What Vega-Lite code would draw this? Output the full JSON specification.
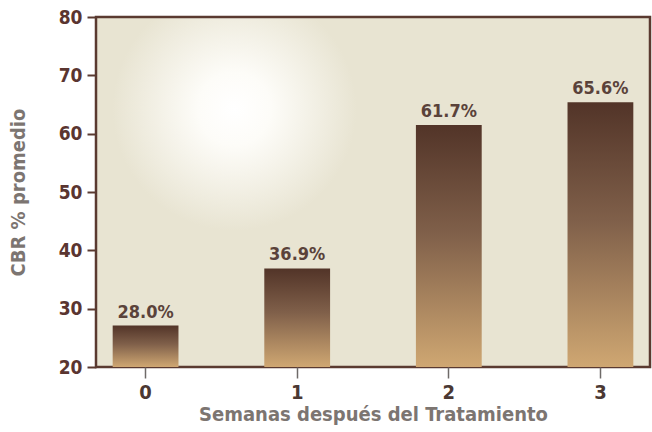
{
  "$schema": "https://vega.github.io/schema/vega-lite/v6.json",
  "autosize": "none",
  "width": 554,
  "height": 350,
  "padding": {"left": 96, "top": 17, "right": 2, "bottom": 65},
  "background": "#ffffff",
  "config": {
    "font": "DejaVu Sans Condensed",
    "view": {
      "stroke": "#5a3a30",
      "strokeWidth": 2.5,
      "fill": {
        "gradient": "radial",
        "x1": 0.25, "y1": 0.35, "r1": 0,
        "x2": 0.25, "y2": 0.35, "r2": 0.22,
        "stops": [
          {"offset": 0, "color": "#ffffff"},
          {"offset": 0.3, "color": "#fdfcf8"},
          {"offset": 1, "color": "#e8e4d2"}
        ]
      }
    }
  },
  "data": {
    "values": [
      {"week": "0", "value": 27.1, "label": "28.0%"},
      {"week": "1", "value": 36.9, "label": "36.9%"},
      {"week": "2", "value": 61.5, "label": "61.7%"},
      {"week": "3", "value": 65.4, "label": "65.6%"}
    ]
  },
  "encoding": {
    "x": {
      "field": "week",
      "type": "ordinal",
      "sort": null,
      "scale": {"paddingInner": 0.566, "paddingOuter": 0.11},
      "axis": {
        "title": "Semanas después del Tratamiento",
        "titleFontSize": 20,
        "titleFontWeight": "bold",
        "titleColor": "#7c7571",
        "titlePadding": 2,
        "labelAngle": 0,
        "labelFontSize": 20,
        "labelFontWeight": "bold",
        "labelColor": "#4a3833",
        "labelPadding": 4,
        "tickSize": 11,
        "tickColor": "#6e6a68",
        "tickWidth": 1.5,
        "domain": false
      }
    },
    "y": {
      "field": "value",
      "type": "quantitative",
      "scale": {"domain": [20, 80], "nice": false, "zero": false},
      "axis": {
        "title": "CBR % promedio",
        "titleFontSize": 20,
        "titleFontWeight": "bold",
        "titleColor": "#7c7571",
        "titlePadding": 30,
        "values": [20, 30, 40, 50, 60, 70, 80],
        "labelFontSize": 19,
        "labelFontWeight": "bold",
        "labelColor": "#5a3530",
        "labelPadding": 5,
        "tickSize": 9,
        "tickColor": "#5a3a30",
        "tickWidth": 2,
        "grid": false,
        "domain": false
      }
    }
  },
  "layer": [
    {
      "mark": {
        "type": "bar",
        "fill": {
          "gradient": "linear",
          "x1": 0, "y1": 0, "x2": 0, "y2": 1,
          "stops": [
            {"offset": 0, "color": "#523428"},
            {"offset": 0.45, "color": "#80604a"},
            {"offset": 1, "color": "#cfa772"}
          ]
        }
      },
      "encoding": {"y2": {"datum": 20}}
    },
    {
      "mark": {
        "type": "text",
        "baseline": "bottom",
        "dy": -4,
        "fontSize": 18,
        "fontWeight": "bold",
        "color": "#5a423a"
      },
      "encoding": {"text": {"field": "label"}}
    }
  ]
}
